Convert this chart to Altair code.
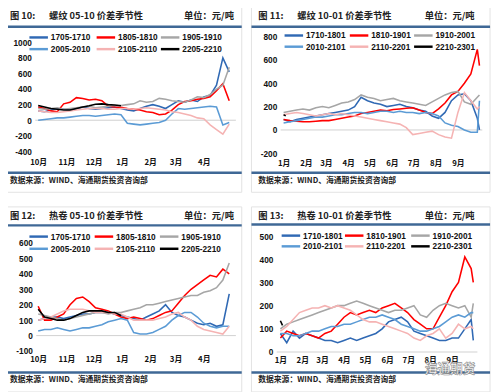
import altair as alt
import pandas as pd

CJK = "Noto Sans CJK SC"
NUM = "Liberation Sans"
BLUE = "#3f6896"
COLORS = ["#3069b4", "#ff0000", "#a6a6a6", "#5b9bd5", "#f5b3b3", "#000000"]

# ---------------- tick labels ----------------
M1_TICKS = [0, 31, 61, 92, 123, 151, 182]
M1_LABELS = ["10月", "11月", "12月", "1月", "2月", "3月", "4月"]
M2_TICKS = [0, 31, 59, 90, 120, 151, 181, 212, 243]
M2_LABELS = ["1月", "2月", "3月", "4月", "5月", "6月", "7月", "8月", "9月"]

# ---------------- panel 1: 螺纹 05-10 ----------------
P1_NAMES = ["1705-1710", "1805-1810", "1905-1910", "2005-2010", "2105-2110", "2205-2210"]
P1_DAYS = list(range(0, 211, 7))
P1_S1 = [120, 110, 130, 150, 140, 130, 150, 170, 150, 140, 150, 160, 170, 150, 130, 120, 150, 180, 200, 180, 150, 200, 250, 230, 260, 240, 300, 320, 450, 800, 620]
P1_S2 = [170, 150, 120, 110, 210, 230, 290, 280, 260, 270, 250, 180, 170, 165, 150, 140, 130, 110, 100, 70, 80, 130, 200, 240, 250, 270, 280, 300, 380, 470, 250]
P1_S3 = [150, 140, 150, 160, 140, 150, 160, 170, 180, 160, 170, 180, 190, 190, 200, 210, 250, 230, 240, 280, 270, 250, 240, 230, 260, 300, 290, 330, 400, 450, 680]
P1_S4 = [0, 10, 20, 30, 30, 40, 50, 60, 60, 50, 60, 70, 80, 70, -40, -50, -60, -50, -40, -30, 0, 80, 150, 140, 150, 160, 170, 180, 170, -60, -30]
P1_S5 = [120, 110, 100, 100, 110, 120, 130, 140, 150, 150, 150, 140, 140, 150, 150, 140, 150, 160, 150, 140, 130, 110, 100, 80, 60, 30, 20, -60, -120, -180, -50]
P1_S6 = [190, 170, 150, 140, 130, 130, 150, 170, 185, 205, 210, 200, 195, 185]

# ---------------- panel 2: 螺纹 10-01 ----------------
P2_NAMES = ["1710-1801", "1810-1901", "1910-2001", "2010-2101", "2110-2201", "2210-2301"]
P2_DAYS = list(range(0, 271, 9)) + [273]
P2_S1 = [90, 70, 90, 100, 110, 120, 130, 140, 150, 160, 170, 200, 280, 250, 230, 220, 200, 210, 220, 200, 190, 170, 160, 120, 100, 150, 250, 300, 310, 250, 100, 0]
P2_S2 = [90, 80, 75, 70, 70, 75, 80, 80, 90, 100, 110, 120, 140, 150, 160, 170, 165, 175, 180, 185, 190, 170, 150, 140, 180, 230, 300, 330, 400, 480, 690, 550]
P2_S3 = [150, 160, 170, 180, 170, 190, 200, 190, 210, 230, 240, 260, 300, 280, 270, 250, 260, 270, 250, 240, 230, 220, 210, 240, 270, 300, 320, 330, 240, 220, 280, 300]
P2_S4 = [60, 70, 80, 90, 100, 110, 110, 120, 130, 130, 140, 150, 150, 140, 150, 160, 160, 150, 160, 150, 150, 140, 150, 140, 120, 60, 40, 30, 0, -20, -20, 250]
P2_S5 = [130, 140, 150, 140, 130, 120, 130, 140, 130, 140, 130, 120, 110, 100, 90, 80, 70, 60, 50, 20, -40, -30, -20, -10, -40, -60, -70, 150, 320, 250, 180, 200]
P2_S6_DAYS = [0, 3]
P2_S6 = [130, 120]

# ---------------- panel 3: 热卷 05-10 ----------------
P3_NAMES = P1_NAMES
P3_DAYS = list(range(0, 211, 7))
P3_S1 = [100, 110, 120, 120, 110, 120, 130, 140, 140, 150, 150, 150, 140, 130, 120, 110, 100, 120, 140, 160, 200, 150, 130, 120, 100, 80, 70, 80, 60, 70, 270]
P3_S2 = [190, 100, 100, 120, 140, 200, 240, 250, 220, 180, 170, 160, 140, 120, 110, 120, 110, 100, 110, 130, 150, 160, 210, 260, 300, 330, 360, 390, 380, 430, 400]
P3_S3 = [140, 130, 120, 110, 100, 110, 120, 130, 140, 150, 150, 140, 150, 150, 160, 170, 180, 200, 200, 210, 220, 230, 240, 250, 260, 260, 280, 290, 310, 360, 470]
P3_S4 = [30, 40, 40, 50, 40, 30, 40, 50, 50, 60, 70, 90, 100, 110, 100, 20, 10, 10, 20, 40, 60, 100, 130, 150, 150, 120, 80, 60, 50, 60, 60]
P3_S5 = [100, 110, 120, 140, 160, 170, 170, 170, 160, 150, 150, 150, 140, 140, 120, 100, 100, 100, 100, 110, 120, 140, 150, 120, 100, 60, 40, 30, 20, 10, 60]
P3_S6 = [170, 120, 110, 100, 100, 110, 130, 150, 160, 160, 160, 150, 150, 130]

# ---------------- panel 4: 热卷 10-01 ----------------
P4_NAMES = P2_NAMES
P4_DAYS = list(range(0, 271, 9)) + [273]
P4_S1 = [80, 40, 90, 60, 80, 70, 60, 50, 50, 40, 50, 60, 50, 60, 70, 80, 100, 130, 140, 150, 130, 90, 80, 70, 60, 50, 50, 60, 60, 100, 140, 50]
P4_S2 = [60, 90, 80, 70, 80, 70, 60, 80, 90, 120, 150, 170, 160, 170, 180, 170, 190, 200, 210, 190, 170, 140, 120, 100, 100, 150, 200, 260, 300, 410, 360, 300]
P4_S3 = [100, 120, 130, 140, 150, 160, 170, 180, 190, 200, 200, 210, 220, 210, 200, 190, 180, 170, 180, 180, 190, 200, 160, 150, 180, 200, 210, 200, 190, 200, 150, 210]
P4_S4 = [80, 80, 70, 70, 80, 90, 90, 100, 110, 110, 120, 120, 130, 140, 150, 150, 160, 150, 140, 120, 110, 100, 90, 90, 100, 110, 130, 150, 160, 150, 170, 170]
P4_S5 = [90, 110, 140, 170, 180, 190, 190, 200, 190, 200, 190, 180, 160, 140, 130, 130, 120, 110, 100, 90, 80, 60, 50, 70, 80, 100, 60, 80, 120, 100, 110, 100]
P4_S6_DAYS = [0, 3]
P4_S6 = [135, 115]

ZERO = pd.DataFrame({"v": [0]})
ONE = pd.DataFrame({"k": [0]})
FW, FH = 245, 190


def long_df(names, series):
    rows = []
    for i, (name, (days, vals)) in enumerate(zip(names, series)):
        for d, v in zip(days, vals):
            rows.append({"s": name, "d": d, "v": v, "o": i})
    return pd.DataFrame(rows)


def label_expr(ticks, labels):
    expr = "''"
    for t, l in reversed(list(zip(ticks, labels))):
        expr = f"datum.value == {t} ? '{l}' : ({expr})"
    return expr


def panel(fig, title, names, series, ydom, yvals, ticks, labels, g):
    L, T, W, H = g["L"], g["T"], g["W"], g["H"]
    df = long_df(names, series)
    xs = alt.Scale(domain=g["xdom"], range=[L, L + W], nice=False, zero=False)
    ys = alt.Scale(domain=ydom, range=[T + H, T], nice=False, zero=False)
    yaxis = alt.Axis(values=yvals, labelExpr="'' + datum.value", title=None,
                     domain=False, ticks=False, tickSize=0, grid=False,
                     offset=-L, labelOverlap=False, labelSeparation=0,
                     labelPadding=4, labelFont=NUM, labelFontSize=8.5,
                     labelFontWeight="bold", labelColor="#111")
    layers = []
    lines = alt.Chart(df).mark_line(strokeWidth=1.6).encode(
        x=alt.X("d:Q", scale=xs,
                axis=alt.Axis(values=ticks, labelExpr=label_expr(ticks, labels), title=None,
                              domain=False, ticks=False, tickSize=0, grid=False,
                              offset=-(FH - T - H), labelOverlap=False,
                              labelPadding=g["xpad"], labelFont=CJK, labelFontSize=8,
                              labelFontWeight="bold", labelColor="#111", labelFlush=False)),
        y=alt.Y("v:Q", scale=ys, axis=yaxis),
        color=alt.Color("s:N", scale=alt.Scale(domain=names, range=COLORS), legend=None),
        order=alt.Order("d:Q"),
    )
    zero = alt.Chart(ZERO).mark_rule(color="#d0d0d0", strokeWidth=1).encode(
        x=alt.value(L), x2=alt.value(L + W), y=alt.Y("v:Q", scale=ys, axis=yaxis))
    layers.append(zero)
    layers.append(lines)
    # frame
    layers.append(alt.Chart(ONE).mark_rect(fillOpacity=0, stroke="#e2e2e2", strokeWidth=1).encode(
        x=alt.value(0), x2=alt.value(FW), y=alt.value(0), y2=alt.value(FH)))
    # blue rules
    for fy in (g["top"], 170):
        layers.append(alt.Chart(ONE).mark_rule(color=BLUE, strokeWidth=2.5).encode(
            x=alt.value(0), x2=alt.value(FW), y=alt.value(fy)))
    # header
    hdr = dict(font=CJK, fontSize=9.5, fontWeight="bold", baseline="middle", color="#222")
    layers.append(alt.Chart(ONE).mark_text(align="left", **hdr).encode(
        x=alt.value(7), y=alt.value(9), text=alt.value(fig)))
    layers.append(alt.Chart(ONE).mark_text(align="left", **hdr).encode(
        x=alt.value(47), y=alt.value(9), text=alt.value(title)))
    layers.append(alt.Chart(ONE).mark_text(align="right", **hdr).encode(
        x=alt.value(g["unit"]), y=alt.value(9), text=alt.value("单位：元/吨")))
    layers.append(alt.Chart(ONE).mark_text(align="left", font=CJK, fontSize=8, fontWeight="bold",
                                           baseline="middle", color="#222").encode(
        x=alt.value(7), y=alt.value(178), text=alt.value("数据来源：WIND、海通期货投资咨询部")))
    # legend
    for i, name in enumerate(names):
        sx = g["lx"][i % 3]
        sy = g["ly"][i // 3]
        layers.append(alt.Chart(ONE).mark_rule(color=COLORS[i], strokeWidth=2.5).encode(
            x=alt.value(sx), x2=alt.value(sx + 19), y=alt.value(sy)))
        layers.append(alt.Chart(ONE).mark_text(align="left", baseline="middle", font=NUM,
                                               fontSize=8.5, fontWeight="bold", color="#111").encode(
            x=alt.value(sx + 22), y=alt.value(sy), text=alt.value(name)))
    if g.get("wm"):
        layers.append(alt.Chart(ONE).mark_text(align="left", baseline="middle", font=CJK, fontSize=13,
                                               fontWeight="bold", color="#ffffff", stroke="#8c8c8c",
                                               strokeWidth=0.6).encode(
            x=alt.value(178), y=alt.value(167), text=alt.value("海通期货")))
    return alt.layer(*layers).properties(width=FW, height=FH)


G1 = dict(L=33, T=36, W=206, H=112, xdom=[-3.21, 217.3], xpad=7, top=20, unit=237,
          lx=[27, 96, 162], ly=[31, 43])
G2 = dict(L=30, T=30, W=207, H=120, xdom=[-4.07, 276.9], xpad=6, top=20, unit=229,
          lx=[34, 101, 167], ly=[29, 40.5])
G3 = dict(L=34, T=37, W=205, H=111, xdom=[-2.14, 217.3], xpad=5, top=19, unit=237,
          lx=[27, 94, 161], ly=[30.5, 43])
G4 = dict(L=26, T=30, W=206, H=119, xdom=[-5.1, 278.8], xpad=5, top=18, unit=229,
          lx=[31, 96, 164], ly=[29.5, 40.5], wm=True)

p1 = panel("图 10:", "螺纹 05-10 价差季节性", P1_NAMES,
           [(P1_DAYS, P1_S1), (P1_DAYS, P1_S2), (P1_DAYS, P1_S3), (P1_DAYS, P1_S4), (P1_DAYS, P1_S5), (P1_DAYS, P1_S6)],
           [-400, 1000], [-400, -200, 0, 200, 400, 600, 800, 1000], M1_TICKS, M1_LABELS, G1)
p2 = panel("图 11:", "螺纹 10-01 价差季节性", P2_NAMES,
           [(P2_DAYS, P2_S1), (P2_DAYS, P2_S2), (P2_DAYS, P2_S3), (P2_DAYS, P2_S4), (P2_DAYS, P2_S5), (P2_S6_DAYS, P2_S6)],
           [-200, 800], [-200, 0, 200, 400, 600, 800], M2_TICKS, M2_LABELS, G2)
p3 = panel("图 12:", "热卷 05-10 价差季节性", P3_NAMES,
           [(P3_DAYS, P3_S1), (P3_DAYS, P3_S2), (P3_DAYS, P3_S3), (P3_DAYS, P3_S4), (P3_DAYS, P3_S5), (P3_DAYS, P3_S6)],
           [-100, 600], [-100, 0, 100, 200, 300, 400, 500, 600], M1_TICKS, M1_LABELS, G3)
p4 = panel("图 13:", "热卷 10-01 价差季节性", P4_NAMES,
           [(P4_DAYS, P4_S1), (P4_DAYS, P4_S2), (P4_DAYS, P4_S3), (P4_DAYS, P4_S4), (P4_DAYS, P4_S5), (P4_S6_DAYS, P4_S6)],
           [0, 500], [0, 100, 200, 300, 400, 500], M2_TICKS, M2_LABELS, G4)

chart = alt.concat(p1, p2, p3, p4, columns=2, spacing={"row": 15, "column": 10},
                   bounds="flush").resolve_scale(color="independent").properties(
    padding={"left": -7, "top": -7, "right": 0, "bottom": 0}
).configure(background="white").configure_view(strokeWidth=0).configure_axis(labelOverlap=False)

chart.save("out.html", embed_options={"renderer": "svg", "actions": False})
